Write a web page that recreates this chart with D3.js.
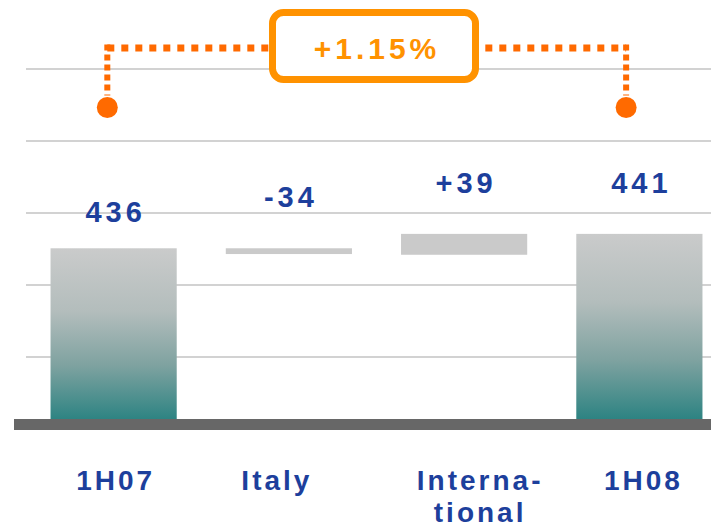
<!DOCTYPE html>
<html>
<head>
<meta charset="utf-8">
<script src="https://cdn.jsdelivr.net/npm/d3@7/dist/d3.min.js"></script>
<style>
  html, body { margin: 0; padding: 0; background: #fff; }
  svg { display: block; }
  text { font-family: "Liberation Sans", Arial, sans-serif; font-weight: bold; }
</style>
</head>
<body>
<svg id="chart" width="711" height="528"></svg>
<script>
// ---- data ----
const categories = ["1H07", "Italy", "Interna-\ntional", "1H08"];
const valueLabels = ["436", "-34", "+39", "441"];
const barTypes = ["total", "delta", "delta", "total"];
const barFrom = [0, 251, 242, 0];
const barTo = [251, 243, 271, 271];
const gridTicks = [100, 200, 300, 400, 500];
const growthLabel = "+1.15%";

// ---- layout ----
const svg = d3.select("#chart");
const W = 711, H = 528;

const x = d3.scaleBand().domain(categories).range([26, 727]).paddingInner(0.28).paddingOuter(0.14);
const y = d3.scaleLinear().domain([0, 500]).range([429, 69]);

const defs = svg.append("defs");
const grad = defs.append("linearGradient").attr("id", "totGrad")
  .attr("x1", 0).attr("y1", 0).attr("x2", 0).attr("y2", 1);
[[0, "#cacbcb"], [0.35, "#b3bdbc"], [0.65, "#7ea2a0"], [1, "#1f7e7d"]].forEach(([o, c]) =>
  grad.append("stop").attr("offset", o).attr("stop-color", c));

// gridlines
svg.append("g").selectAll("line").data(gridTicks).join("line")
  .attr("x1", 26).attr("x2", W)
  .attr("y1", d => y(d)).attr("y2", d => y(d))
  .attr("stroke", "#d2d2d2").attr("stroke-width", 2);

// bars
svg.append("g").selectAll("rect").data(categories).join("rect")
  .attr("x", d => x(d))
  .attr("width", x.bandwidth())
  .attr("y", (d, i) => y(Math.max(barFrom[i], barTo[i])))
  .attr("height", (d, i) => Math.abs(y(barFrom[i]) - y(barTo[i])))
  .attr("fill", (d, i) => barTypes[i] === "total" ? "url(#totGrad)" : "#cacaca");

// baseline axis bar
svg.append("rect").attr("x", 14).attr("y", 419).attr("width", W - 14).attr("height", 11).attr("fill", "#676767");

// value labels
const labelGap = [26, 41, 41, 41];
svg.append("g").selectAll("text").data(categories).join("text")
  .attr("x", d => x(d) + x.bandwidth() / 2 + 2)
  .attr("y", (d, i) => y(Math.max(barFrom[i], barTo[i])) - labelGap[i])
  .attr("text-anchor", "middle")
  .attr("font-size", 29)
  .attr("letter-spacing", 4)
  .attr("fill", "#1d3f9c")
  .text((d, i) => valueLabels[i]);

// category labels
const catNudge = [2, -12, 16, 4];
const catG = svg.append("g");
categories.forEach((c, i) => {
  const t = catG.append("text")
    .attr("x", x(c) + x.bandwidth() / 2 + catNudge[i])
    .attr("y", 490)
    .attr("text-anchor", "middle")
    .attr("font-size", 28)
    .attr("letter-spacing", 3)
    .attr("fill", "#1d3f9c");
  c.split("\n").forEach((line, j) => {
    t.append("tspan").attr("x", x(c) + x.bandwidth() / 2 + catNudge[i]).attr("dy", j === 0 ? 0 : 31.5).text(line);
  });
});

// growth bracket
const leftX = x(categories[0]) + x.bandwidth() * 0.45;
const rightX = x(categories[3]) + x.bandwidth() * 0.395;
const bracketY = 48, dotY = 107.5;
const orange = "#ff6a00", orangeLight = "#ff9200";
const br = svg.append("g");
br.append("line").attr("x1", leftX).attr("x2", rightX).attr("y1", bracketY).attr("y2", bracketY)
  .attr("stroke", orange).attr("stroke-width", 7).attr("stroke-dasharray", "7,7");
[leftX, rightX].forEach(px => {
  br.append("line").attr("x1", px).attr("x2", px).attr("y1", bracketY - 3.5).attr("y2", dotY - 12)
    .attr("stroke", orange).attr("stroke-width", 6).attr("stroke-dasharray", "6,4");
  br.append("circle").attr("cx", px).attr("cy", dotY).attr("r", 10.5).attr("fill", orange);
});
br.append("rect").attr("x", 272.5).attr("y", 12.5).attr("width", 203).attr("height", 67)
  .attr("rx", 11).attr("fill", "#fff").attr("stroke", orangeLight).attr("stroke-width", 7);
br.append("text").attr("x", 377).attr("y", 58.5).attr("text-anchor", "middle")
  .attr("font-size", 30).attr("letter-spacing", 4).attr("fill", orangeLight).text(growthLabel);
</script>
</body>
</html>
